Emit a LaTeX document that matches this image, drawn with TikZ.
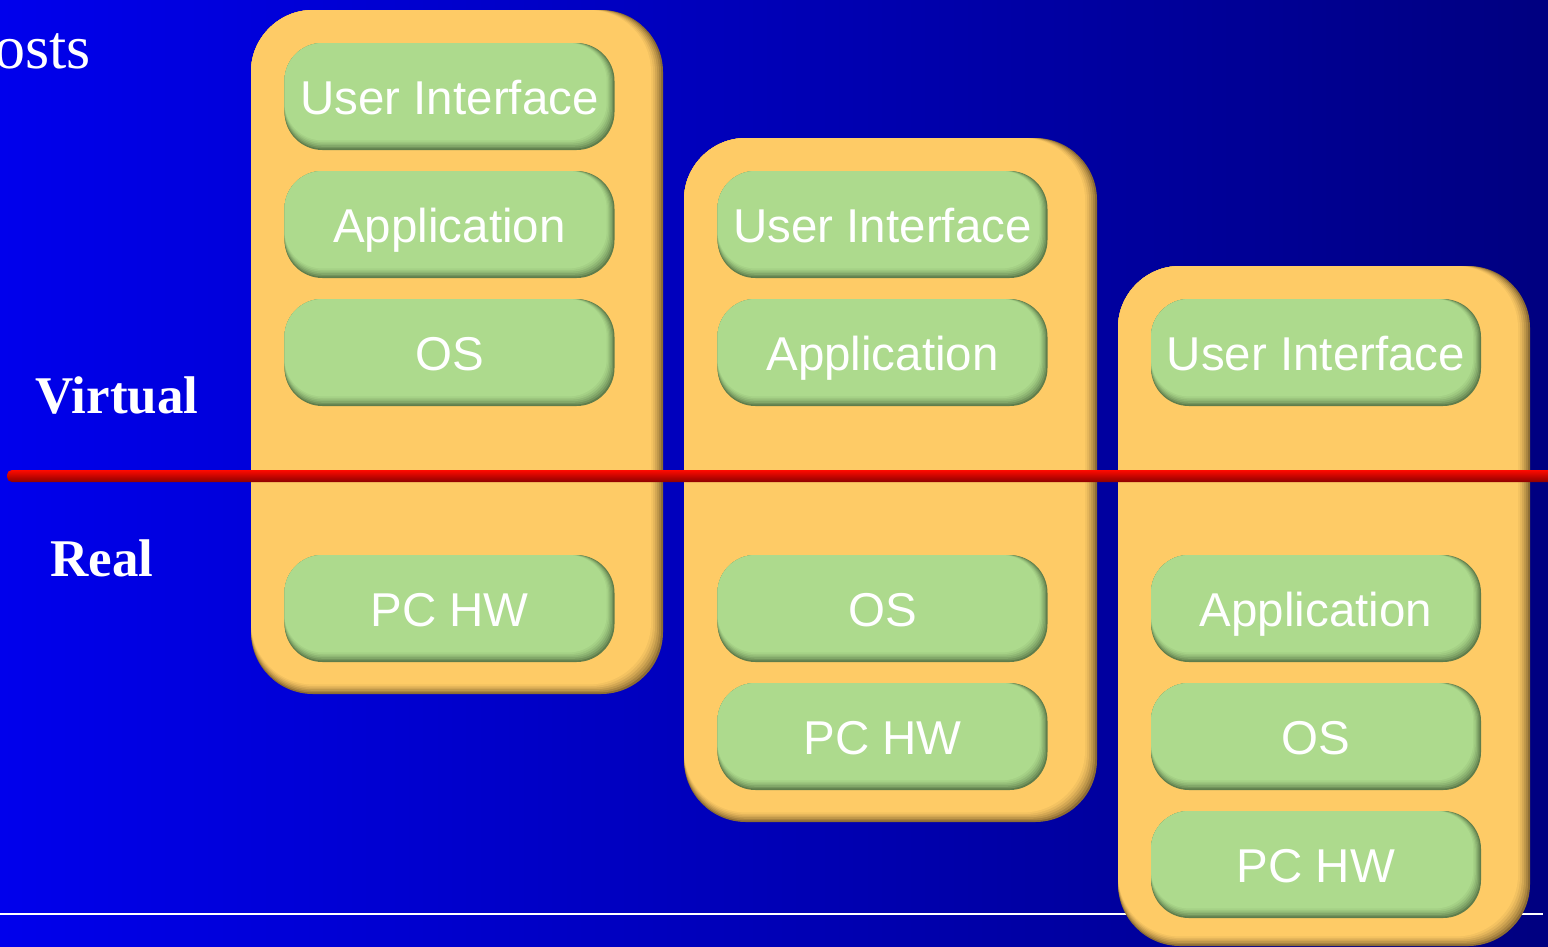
\documentclass[tikz,border=0pt]{standalone}
\usepackage{fontspec}
\setmainfont{Liberation Serif}
\newfontfamily\pillfont{Liberation Sans}
\definecolor{bgL}{RGB}{0,0,236}
\definecolor{bgR}{RGB}{0,0,128}
\definecolor{boxor}{RGB}{254,203,102}
\definecolor{boxsh}{RGB}{140,108,52}
\definecolor{pillg}{RGB}{173,218,141}
\definecolor{pillsh}{RGB}{95,125,75}
\definecolor{redtop}{RGB}{255,10,0}
\definecolor{redbot}{RGB}{140,0,0}
\tikzset{
  pilltext/.style={text=white,font=\pillfont\fontsize{47.5}{50}\selectfont,anchor=base,inner sep=0pt},
  sidelabel/.style={text=white,font=\bfseries\fontsize{53}{56}\selectfont,anchor=base,inner sep=0pt},
  toptext/.style={text=white,font=\fontsize{62}{66}\selectfont,anchor=base west,inner sep=0pt},
}
% orange outer box: left, top, right, bottom
\newcommand\obox[4]{%
  \fill[boxsh,rounded corners=62] (#1,#2) rectangle (#3,#4);
  \foreach \k/\c in {1/25,2/45,3/62,4/78,5/90,6/100}{
    \fill[boxor!\c!boxsh,rounded corners=62] (#1,#2) rectangle ({#3-2*\k},{#4-1.6*\k});
  }
}
% green pill: center x, top y, name, text
\newcommand\gpill[4]{%
  \fill[pillsh,rounded corners=38] ({#1-165},#2) rectangle ({#1+165},{#2+107});
  \foreach \k/\c in {1/25,2/45,3/62,4/78,5/90,6/100}{
    \fill[pillg!\c!pillsh,rounded corners=38] ({#1-165},#2) rectangle ({#1+165-1.3*\k},{#2+107-1.6*\k});
  }
  \node[pilltext] (#3) at (#1,{#2+71}) {#4};
}
\begin{document}
\begin{tikzpicture}[x=1pt,y=-1pt]
\useasboundingbox (0,0) rectangle (1548,946);
\shade[left color=bgL,right color=bgR] (0,0) rectangle (1548,946);
% top cut text
\node[toptext] (osts) at (-6,68) {osts};
% bottom white rule
\draw[white,line width=2] (0,914) -- (1543,914);
% boxes
\obox{251}{10}{663}{694}
\obox{684}{138}{1097}{822}
\obox{1118}{266}{1530}{946}
% red divider
\shade[top color=redtop,bottom color=redbot,rounded corners=5] (7,470) rectangle (1570,482);
% pills column 1
\gpill{449.5}{43}{aui}{User Interface}
\gpill{449.5}{171}{aapp}{Application}
\gpill{449.5}{299}{aos}{OS}
\gpill{449.5}{555}{ahw}{PC HW}
% column 2
\gpill{882.5}{171}{bui}{User Interface}
\gpill{882.5}{299}{bapp}{Application}
\gpill{882.5}{555}{bos}{OS}
\gpill{882.5}{683}{bhw}{PC HW}
% column 3
\gpill{1316}{299}{cui}{User Interface}
\gpill{1316}{555}{capp}{Application}
\gpill{1316}{683}{cos}{OS}
\gpill{1316}{811}{chw}{PC HW}
% side labels
\node[sidelabel] (virt) at (117,413) {Virtual};
\node[sidelabel] (real) at (102,576) {Real};
\end{tikzpicture}
\end{document}
